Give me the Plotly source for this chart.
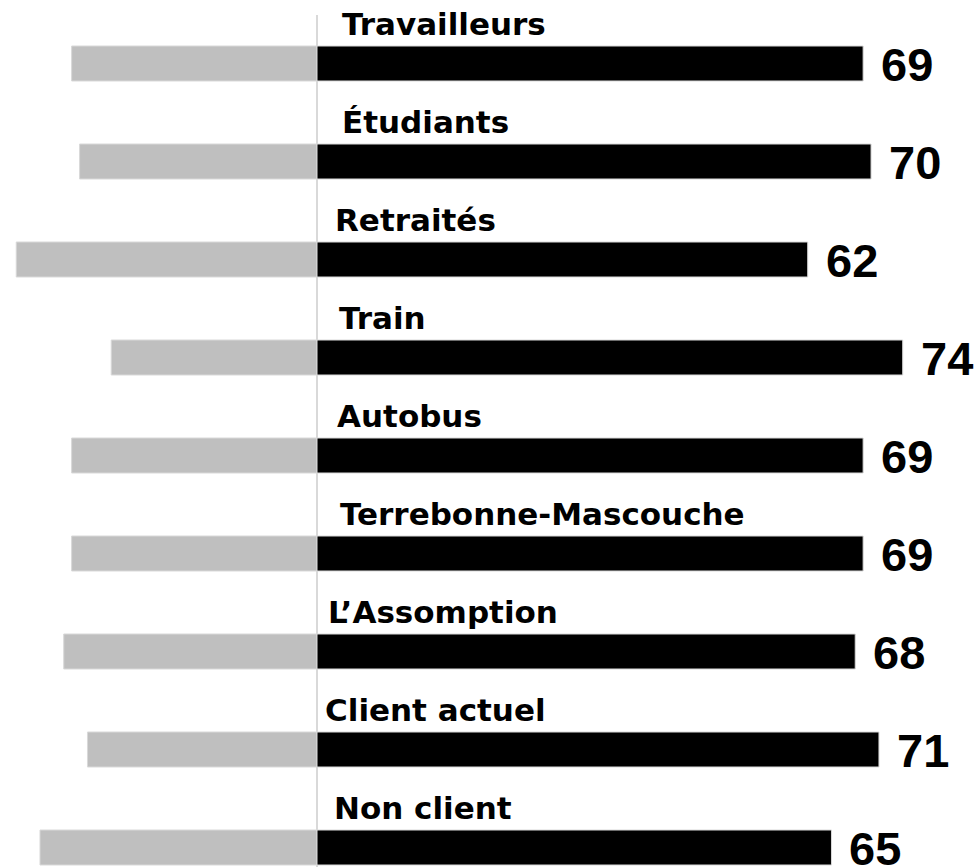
import plotly.graph_objects as go

# Groupes (de haut en bas)
groupes = [
    "Travailleurs",
    "Étudiants",
    "Retraités",
    "Train",
    "Autobus",
    "Terrebonne-Mascouche",
    "L’Assomption",
    "Client actuel",
    "Non client",
]
# Part positive (barres noires, valeurs affichées)
positif = [69, 70, 62, 74, 69, 69, 68, 71, 65]
# Part complémentaire (barres grises, vers la gauche)
complement = [31, 30, 38, 26, 31, 31, 32, 29, 35]

# Décalage horizontal (px) du libellé de chaque groupe par rapport à l'axe central
decalage_libelle = [27, 27, 20, 24, 22, 25, 13, 10, 19]

W, H = 979, 867
ZERO_PX = 317.0
PX_PAR_UNITE = 7.915
CENTRE_1 = 63.5
PAS = 98.0
HAUTEUR_BARRE = 35.0

pos = list(range(len(groupes)))
larg = HAUTEUR_BARRE / PAS

fig = go.Figure()

fig.add_trace(go.Bar(
    y=pos, x=[-v for v in complement], orientation="h", width=larg,
    marker=dict(color="#bfbfbf", line=dict(color="#d9d9d9", width=1)),
    hoverinfo="skip", showlegend=False,
))
fig.add_trace(go.Bar(
    y=pos, x=positif, orientation="h", width=larg,
    marker=dict(color="#000000", line=dict(color="#d9d9d9", width=1)),
    hoverinfo="skip", showlegend=False,
))

# Axe central
fig.add_shape(
    type="line", xref="x", yref="y", x0=0, x1=0,
    y0=(15 - CENTRE_1) / PAS, y1=(H - CENTRE_1) / PAS + 0.5,
    line=dict(color="#d9d9d9", width=2), layer="below",
)

for i, (nom, val) in enumerate(zip(groupes, positif)):
    fig.add_annotation(
        x=0, y=i - 0.40, xref="x", yref="y", text=nom, showarrow=False,
        xanchor="left", yanchor="middle", xshift=decalage_libelle[i] - 4,
        font=dict(family="DejaVu Sans", size=31, color="#000000", weight="bold"),
    )
    fig.add_annotation(
        x=val, y=i, xref="x", yref="y", text=str(val), showarrow=False,
        xanchor="left", yanchor="middle", xshift=16, yshift=-1,
        font=dict(family="Liberation Sans, Arial", size=47, color="#000000", weight="bold"),
    )

fig.update_layout(
    width=W, height=H,
    margin=dict(l=0, r=0, t=0, b=0),
    paper_bgcolor="white", plot_bgcolor="white",
    barmode="overlay",
    xaxis=dict(
        range=[-ZERO_PX / PX_PAR_UNITE, (W - ZERO_PX) / PX_PAR_UNITE],
        visible=False, fixedrange=True,
    ),
    yaxis=dict(
        range=[(H - CENTRE_1) / PAS, -CENTRE_1 / PAS],
        visible=False, fixedrange=True,
    ),
)

fig.write_html("out.html")
